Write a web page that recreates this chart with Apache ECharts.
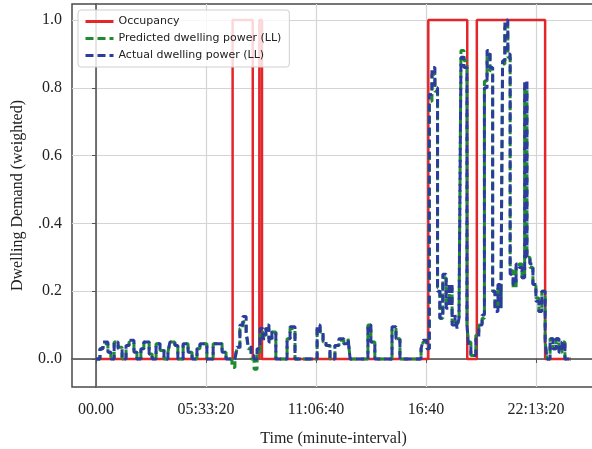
<!DOCTYPE html>
<html><head><meta charset="utf-8">
<script src="https://cdn.jsdelivr.net/npm/echarts@6/dist/echarts.min.js"></script>
<style>html,body{margin:0;padding:0;background:#fff}#chart{width:592px;height:449px}</style>
</head><body><div id="chart"></div>
<script>
// Minute of the day at which each power step begins (value holds until the next step)
const powerMinutes = [
  0, 12, 21, 36, 45, 55, 67, 79, 91, 100, 115, 124, 136, 145, 161, 170, 182, 194, 206, 218,
  224, 239, 248, 264, 279, 291, 306, 315, 336, 355, 382, 394, 412, 421, 427, 436, 445, 455, 461, 470,
  479, 488, 497, 506, 515, 524, 533, 545, 579, 588, 603, 670, 679, 688, 697, 709, 724, 736, 751, 764,
  770, 824, 833, 845, 897, 909, 921, 985, 991, 1003, 1010, 1018, 1027, 1035, 1042, 1051, 1061, 1070, 1079, 1088,
  1094, 1100, 1106, 1115, 1124, 1129, 1136, 1151, 1160, 1170, 1177, 1185, 1194, 1202, 1209, 1218, 1227, 1232, 1239, 1248,
  1255, 1264, 1273, 1282, 1291, 1299, 1306, 1315, 1324, 1333, 1342, 1351, 1361, 1367, 1376, 1385, 1394, 1403, 1412, 1421,
  1439
];
const actualPower = [
  0, .03, .05, .02, 0, .05, .03, 0, .04, .055, .02, 0, .03, .05, .015, 0, .045, .03, 0, .02,
  .05, .04, 0, .045, .02, 0, .03, .045, 0, .045, .02, 0, 0, 0, .035, .1, .125, .08, .04, .01,
  0, .03, .09, .06, .1, .05, .08, 0, .06, .095, 0, .1, .08, .055, .04, 0, .04, .06, .045, .06,
  0, .1, .05, 0, .095, .06, 0, .03, .055, .03, .78, .86, .8, .2, .12, .25, .15, .22, .1, .13,
  .09, .12, .89, .86, .1, .04, .01, .06, .1, .13, .8, .91, .86, .2, .14, .22, .15, .88, 1.0, .9,
  .25, .22, .28, .27, .24, .82, .3, .28, .22, .17, .14, .2, .05, 0, .06, .03, .06, .02, .05, 0,
  0
];
const predictedPower = [
  0, .03, .045, .02, 0, .05, .035, 0, .04, .05, .02, 0, .03, .05, .015, 0, .045, .025, 0, .02,
  .05, .04, 0, .045, .02, 0, .03, .045, 0, .045, .02, 0, -.025, 0, .03, .09, .11, .08, .03, 0,
  -.03, .02, .08, .07, .09, .06, .08, 0, .06, .09, 0, .095, .08, .05, .04, 0, .04, .055, .045, .06,
  0, .1, .05, 0, .09, .06, 0, .03, .05, .03, .76, .84, .79, .21, .12, .24, .16, .21, .11, .12,
  .1, .12, .91, .88, .1, .05, .01, .07, .1, .12, .82, .9, .85, .2, .15, .21, .15, .87, .98, .89,
  .26, .21, .27, .28, .24, .8, .3, .27, .22, .18, .14, .2, .05, 0, .06, .03, .06, .02, .05, 0,
  0
];
// Occupancy switches (minute of day, state from that minute on)
const occupancyMinutes = [0, 414, 475, 495, 503, 1007, 1125, 1154, 1361, 1439];
const occupancyValues = [0, 1, 0, 1, 0, 1, 0, 1, 0, 0];

const xTickSeconds = [0, 20000, 40000, 60000, 80000];
const xTickLabels = ['00.00', '05:33:20', '11:06:40', '16:40', '22:13:20'];
const yTickValues = [0, 0.2, 0.4, 0.6, 0.8, 1.0];
const yTickLabels = ['0..0', '0.2', '.0.4', '0.6', '0.8', '1.0'];

const toPairs = (mins, vals) => mins.map((m, i) => [m * 60, vals[i]]);

const serif = '"Liberation Serif", "DejaVu Serif", serif';
const chart = echarts.init(document.getElementById('chart'), null, { renderer: 'canvas' });

chart.setOption({
  animation: false,
  backgroundColor: '#ffffff',
  grid: {
    left: 72, right: -3, top: 4, bottom: 62,
    outerBoundsMode: 'none', containLabel: false,
    show: true, borderColor: '#4a4a4a', borderWidth: 1.5, backgroundColor: 'transparent'
  },
  legend: {
    orient: 'vertical', left: 78, top: 10,
    padding: [6, 8, 6, 6], itemGap: 6, itemWidth: 28, itemHeight: 10,
    backgroundColor: 'rgba(255,255,255,0.82)', borderColor: '#cfcfcf', borderWidth: 1, borderRadius: 3,
    itemStyle: { opacity: 0 },
    lineStyle: { width: 3 },
    textStyle: { fontFamily: '"DejaVu Sans", sans-serif', fontSize: 11, color: '#222' },
    data: ['Occupancy', 'Predicted dwelling power (LL)', 'Actual dwelling power (LL)']
  },
  xAxis: {
    type: 'value', min: -4364, max: 90727,
    name: 'Time (minute-interval)', nameLocation: 'middle', nameGap: 44,
    nameTextStyle: { fontFamily: serif, fontSize: 16, color: '#222' },
    axisLine: { show: true, lineStyle: { color: '#4a4a4a', width: 1.5 } },
    axisTick: { show: true, customValues: xTickSeconds, length: 4, lineStyle: { color: '#555' } },
    axisLabel: {
      customValues: xTickSeconds, margin: 15,
      fontFamily: serif, fontSize: 16, color: '#222',
      formatter: v => xTickLabels[xTickSeconds.indexOf(v)]
    },
    splitLine: { show: true, lineStyle: { color: '#d4d4d4', width: 1.2 } }
  },
  yAxis: {
    type: 'value', min: -0.0826, max: 1.0472,
    name: 'Dwelling Demand (weighted)', nameLocation: 'middle', nameGap: 46,
    nameTextStyle: { fontFamily: serif, fontSize: 16, color: '#222' },
    axisLine: { show: true, lineStyle: { color: '#4a4a4a', width: 1.5 } },
    axisTick: { show: true, customValues: yTickValues, length: 4, lineStyle: { color: '#555' } },
    axisLabel: {
      customValues: yTickValues, margin: 10,
      fontFamily: serif, fontSize: 16, color: '#222',
      formatter: v => yTickLabels[Math.round(v / 0.2)]
    },
    splitLine: { show: true, lineStyle: { color: '#d4d4d4', width: 1.2 } }
  },
  series: [
    {
      name: 'Occupancy', type: 'line', step: 'end', symbol: 'none',
      data: toPairs(occupancyMinutes, occupancyValues),
      lineStyle: { color: '#e4262b', width: 2.5 }, itemStyle: { color: '#e4262b' }
    },
    {
      name: 'Predicted dwelling power (LL)', type: 'line', step: 'end', symbol: 'none',
      data: toPairs(powerMinutes, predictedPower),
      lineStyle: { color: '#1f8a2e', width: 3, type: [8, 4] }, itemStyle: { color: '#1f8a2e' }
    },
    {
      name: 'Actual dwelling power (LL)', type: 'line', step: 'end', symbol: 'none',
      data: toPairs(powerMinutes, actualPower),
      lineStyle: { color: '#2b3c9e', width: 3, type: [8, 4] }, itemStyle: { color: '#2b3c9e' }
    }
  ]
});
</script>
</body></html>
